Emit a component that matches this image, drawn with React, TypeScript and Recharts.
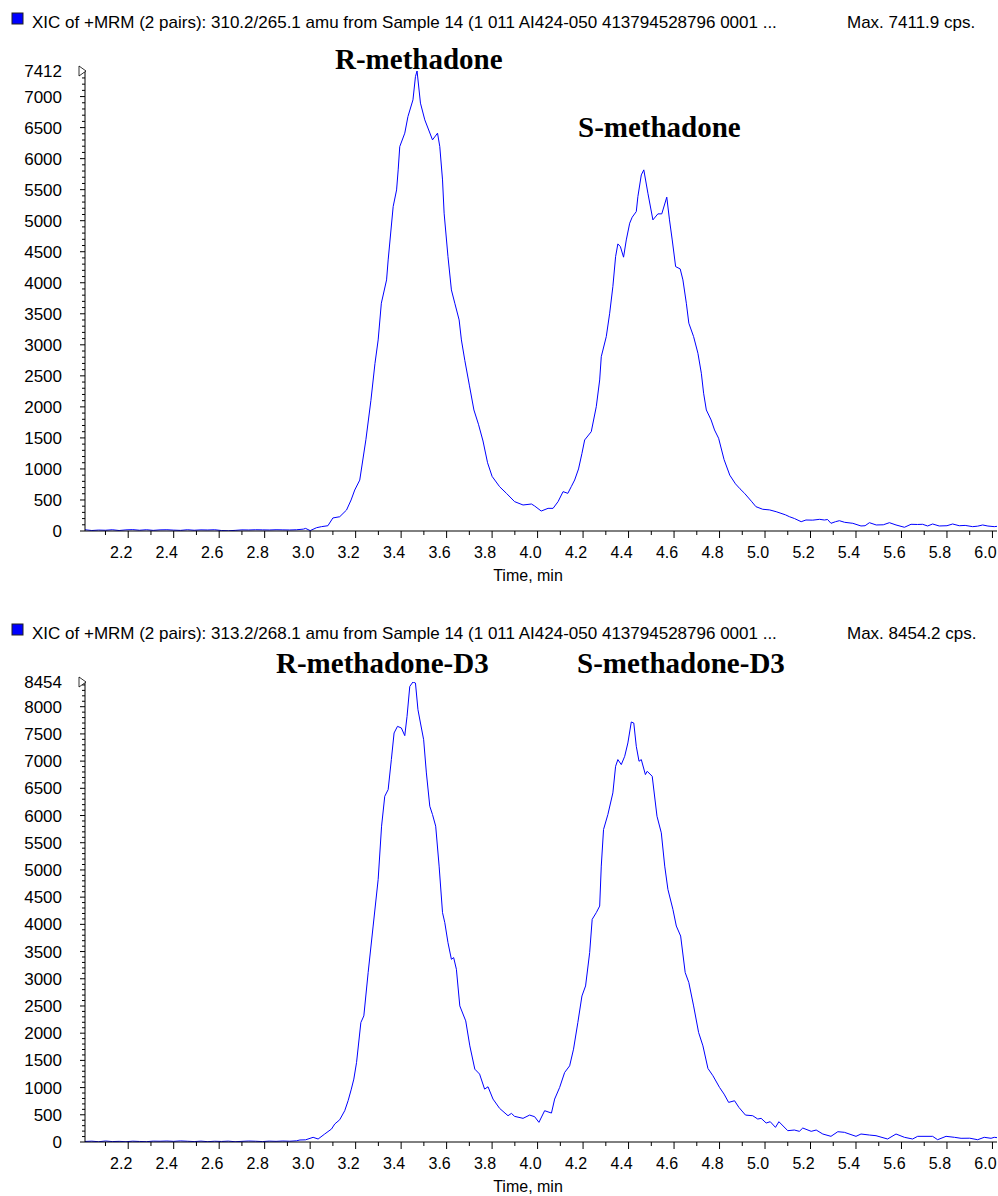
import { Line, LineChart, XAxis, YAxis } from "recharts";

// 310.2/265.1 (methadone) trace
const analyteTime = [
  2.01, 2.04, 2.07, 2.1, 2.13, 2.16, 2.19, 2.22, 2.25, 2.28, 2.31, 2.34, 2.37, 2.4, 2.43, 2.46, 2.49, 2.52,
  2.55, 2.58, 2.61, 2.64, 2.67, 2.7, 2.73, 2.76, 2.79, 2.82, 2.85, 2.88, 2.91, 2.94, 2.97, 2.98, 3.0, 3.028,
  3.05, 3.078, 3.1, 3.13, 3.16, 3.18, 3.196, 3.218, 3.245, 3.267, 3.285, 3.299, 3.313, 3.336, 3.343, 3.365,
  3.38, 3.387, 3.394, 3.416, 3.43, 3.452, 3.463, 3.47, 3.485, 3.504, 3.538, 3.56, 3.57, 3.582, 3.589, 3.606,
  3.621, 3.636, 3.655, 3.665, 3.68, 3.7, 3.72, 3.74, 3.76, 3.78, 3.8, 3.833, 3.863, 3.899, 3.936, 3.973,
  3.987, 4.016, 4.046, 4.068, 4.09, 4.112, 4.133, 4.148, 4.163, 4.18, 4.195, 4.207, 4.236, 4.258, 4.273,
  4.28, 4.302, 4.317, 4.331, 4.343, 4.353, 4.364, 4.378, 4.39, 4.405, 4.416, 4.434, 4.441, 4.456, 4.467,
  4.485, 4.507, 4.529, 4.546, 4.568, 4.58, 4.592, 4.607, 4.627, 4.639, 4.654, 4.665, 4.686, 4.705, 4.72,
  4.73, 4.742, 4.763, 4.778, 4.796, 4.82, 4.845, 4.87, 4.89, 4.91, 4.94, 4.96, 4.99, 5.02, 5.049, 5.07,
  5.09, 5.107, 5.13, 5.159, 5.18, 5.21, 5.24, 5.261, 5.275, 5.29, 5.31, 5.327, 5.35, 5.386, 5.422, 5.44,
  5.459, 5.489, 5.52, 5.547, 5.576, 5.613, 5.642, 5.67, 5.693, 5.715, 5.737, 5.766, 5.8, 5.825, 5.854,
  5.88, 5.913, 5.935, 5.957, 5.98, 6.008, 6.02,
];
const analyteCps = [
  20, 8, 15, 12, 20, 8, 18, 22, 12, 20, 10, 18, 20, 14, 10, 20, 12, 18,
  16, 20, 8, 4, 10, 18, 16, 20, 18, 16, 20, 18, 16, 20, 30, 42, 6, 53,
  70, 85, 210, 230, 338, 500, 660, 820, 1470, 2100, 2700, 3079, 3670, 4046, 4368, 5227,
  5496, 5819, 6194, 6410, 6678, 6947, 7323, 7412, 6894, 6625, 6302, 6410, 6194, 5657, 5121, 4421,
  3885, 3670, 3401, 3079, 2750, 2350, 1950, 1720, 1450, 1100, 880, 714, 607, 473, 419, 435,
  403, 322, 365, 365, 473, 634, 607, 714, 822, 1000, 1250, 1467, 1600, 2003, 2434,
  2809, 3132, 3509, 3938, 4421, 4626, 4583, 4412, 4690, 4960, 5056, 5147, 5388, 5738, 5819,
  5443, 5013, 5110, 5110, 5379, 5013, 4690, 4260, 4223, 4046, 3670, 3348, 3132, 2864, 2542,
  2220, 1950, 1789, 1628, 1494, 1150, 900, 760, 680, 607, 480, 392, 350, 340, 311, 285,
  260, 231, 200, 150, 177, 175, 188, 177, 185, 124, 150, 166, 140, 124, 81, 85,
  134, 97, 100, 134, 97, 60, 108, 105, 108, 81, 113, 81, 85, 113, 85,
  90, 70, 78, 97, 80, 70, 75,
];

// 313.2/268.1 (methadone-D3) trace
const internalTime = [
  2.01, 2.04, 2.07, 2.1, 2.13, 2.16, 2.19, 2.22, 2.25, 2.28, 2.31, 2.34, 2.37, 2.4, 2.43, 2.46, 2.49, 2.52,
  2.55, 2.58, 2.61, 2.64, 2.67, 2.7, 2.73, 2.76, 2.79, 2.82, 2.85, 2.88, 2.91, 2.94, 2.955, 2.98, 3.013,
  3.035, 3.064, 3.094, 3.108, 3.13, 3.152, 3.167, 3.181, 3.192, 3.204, 3.223, 3.236, 3.255, 3.277, 3.299,
  3.314, 3.328, 3.343, 3.357, 3.369, 3.384, 3.401, 3.416, 3.426, 3.438, 3.452, 3.463, 3.474, 3.485, 3.499,
  3.511, 3.526, 3.538, 3.552, 3.567, 3.582, 3.592, 3.606, 3.621, 3.631, 3.643, 3.658, 3.684, 3.702, 3.724,
  3.745, 3.767, 3.782, 3.804, 3.833, 3.87, 3.885, 3.899, 3.936, 3.965, 3.987, 4.006, 4.031, 4.061, 4.075,
  4.097, 4.119, 4.141, 4.158, 4.177, 4.195, 4.211, 4.229, 4.24, 4.258, 4.273, 4.28, 4.29, 4.309, 4.331,
  4.343, 4.353, 4.368, 4.383, 4.397, 4.412, 4.423, 4.434, 4.446, 4.456, 4.474, 4.482, 4.504, 4.525, 4.544,
  4.559, 4.573, 4.595, 4.61, 4.629, 4.649, 4.665, 4.686, 4.708, 4.727, 4.749, 4.771, 4.8, 4.82, 4.84,
  4.866, 4.885, 4.914, 4.946, 4.968, 4.983, 5.005, 5.023, 5.046, 5.061, 5.1, 5.129, 5.151, 5.166, 5.203,
  5.225, 5.254, 5.29, 5.32, 5.349, 5.4, 5.422, 5.459, 5.488, 5.539, 5.576, 5.613, 5.649, 5.671, 5.737,
  5.759, 5.796, 5.833, 5.862, 5.9, 5.935, 5.964, 5.994, 6.008, 6.02,
];
const internalCps = [
  10, 15, 5, 18, 8, 12, 5, 15, 10, 6, 16, 14, 18, 12, 20, 14, 8, 16,
  6, 14, 10, 16, 5, 12, 18, 14, 8, 16, 12, 18, 14, 22, 37, 40, 86,
  55, 147, 239, 330, 409, 575, 760, 972, 1156, 1462, 2196, 2318, 3114, 3969, 4826,
  5804, 6354, 6477, 7028, 7517, 7639, 7609, 7468, 7822, 8373, 8454, 8435, 7945, 7700, 7394,
  6783, 6171, 6018, 5804, 5070, 4215, 4031, 3664, 3358, 3389, 3174, 2501, 2226, 1767, 1339,
  1248, 972, 1015, 789, 618, 483, 526, 471, 435, 495, 465, 361, 575, 532, 789,
  1003, 1278, 1400, 1706, 2196, 2684, 2868, 3481, 4092, 4215, 4336, 5070, 5743, 6018, 6416,
  6905, 7028, 6936, 7088, 7334, 7719, 7700, 7272, 6997, 7028, 6752, 6813, 6721, 5987, 5682,
  5070, 4642, 4275, 3969, 3785, 3114, 2930, 2501, 2012, 1767, 1352, 1217, 1003, 880, 728,
  758, 637, 495, 483, 422, 435, 349, 373, 269, 373, 208, 220, 196, 257, 196,
  220, 147, 104, 189, 178, 104, 147, 128, 116, 55, 147, 86, 55, 104, 104,
  42, 104, 86, 68, 70, 42, 86, 68, 86, 80,
];

const timeTicks = [
  2.1, 2.2, 2.3, 2.4, 2.5, 2.6, 2.7, 2.8, 2.9, 3.0, 3.1, 3.2, 3.3, 3.4, 3.5, 3.6, 3.7, 3.8, 3.9, 4.0,
  4.1, 4.2, 4.3, 4.4, 4.5, 4.6, 4.7, 4.8, 4.9, 5.0, 5.1, 5.2, 5.3, 5.4, 5.5, 5.6, 5.7, 5.8, 5.9, 6.0,
];
const timeDomain = [2.01, 6.02];

const analyteMax = 7412;
const internalMax = 8454;

const analyteTitle = "XIC of +MRM (2 pairs): 310.2/265.1 amu from Sample 14 (1 011 AI424-050 413794528796 0001 ...";
const internalTitle = "XIC of +MRM (2 pairs): 313.2/268.1 amu from Sample 14 (1 011 AI424-050 413794528796 0001 ...";
const analyteMaxText = "Max. 7411.9 cps.";
const internalMaxText = "Max. 8454.2 cps.";
const analytePeaks = ["R-methadone", "S-methadone"];
const internalPeaks = ["R-methadone-D3", "S-methadone-D3"];

const SANS = "'Liberation Sans', Arial, sans-serif";
const SERIF = "'Liberation Serif', 'Times New Roman', serif";

// minor ticks every 100 cps up to the top, plus the max itself
const cpsTicks = (top: number) => {
  const out: number[] = [];
  for (let v = 0; v < top; v += 100) out.push(v);
  out.push(top);
  return out;
};

const TimeTick = (props: any) => {
  const { x, y, payload } = props;
  const v = payload.value as number;
  const major = Math.round(v * 10) % 2 === 0;
  return (
    <g>
      <line x1={x} x2={x} y1={y} y2={y + (major ? 7 : 4)} stroke="#000" />
      {major && (
        <text x={x - 7} y={y + 27} textAnchor="middle" fontSize={16} fontFamily={SANS} fill="#000">
          {v.toFixed(1)}
        </text>
      )}
    </g>
  );
};

const CpsTick = (props: any) => {
  const { x, y, payload, top } = props;
  const v = payload.value as number;
  const isTop = v === top;
  const major = v % 500 === 0 || isTop;
  return (
    <g>
      {!isTop && <line x1={x - (major ? 5 : 3)} x2={x} y1={y} y2={y} stroke="#000" />}
      {major && (
        <text x={x - 23} y={y + 6} textAnchor="end" fontSize={17} fontFamily={SANS} fill="#000">
          {v}
        </text>
      )}
      {isTop && <polygon points={`${x - 6},${y - 5} ${x - 6},${y + 5} ${x + 1},${y}`} fill="#fff" stroke="#000" strokeWidth={0.8} />}
    </g>
  );
};

type PanelProps = {
  top: number;
  times: number[];
  values: number[];
  yMax: number;
  title: string;
  maxText: string;
  peaks: string[];
  peakPos: { x: number; y: number }[];
};

function Panel({ top, times, values, yMax, title, maxText, peaks, peakPos }: PanelProps) {
  const data = times.map((t, i) => ({ t, cps: values[i] }));
  return (
    <div style={{ position: "absolute", left: 0, top, width: 998, height: 600 }}>
      <LineChart width={998} height={600} data={data} margin={{ top: 71, right: 1, bottom: 29, left: 0 }}>
        <XAxis
          dataKey="t"
          type="number"
          domain={timeDomain}
          ticks={timeTicks}
          interval={0}
          allowDataOverflow
          height={40}
          tickSize={0}
          tickMargin={0}
          tickLine={false}
          axisLine={{ stroke: "#000" }}
          tick={<TimeTick />}
        />
        <YAxis
          type="number"
          domain={[0, yMax]}
          ticks={cpsTicks(yMax)}
          interval={0}
          allowDataOverflow
          width={85}
          tickSize={0}
          tickMargin={0}
          tickLine={false}
          axisLine={{ stroke: "#000" }}
          tick={<CpsTick top={yMax} />}
        />
        <Line type="linear" dataKey="cps" stroke="#0000ff" strokeWidth={1} dot={false} isAnimationActive={false} />
      </LineChart>
      <svg width={998} height={600} style={{ position: "absolute", left: 0, top: 0, pointerEvents: "none" }}>
        <rect x={12} y={13} width={11} height={11} fill="#0000ff" stroke="#222" strokeWidth={1} />
        <text x={32} y={28} fontSize={17} fontFamily={SANS} fill="#000">{title}</text>
        <text x={847} y={28} fontSize={17} fontFamily={SANS} fill="#000">{maxText}</text>
        {peaks.map((p, i) => (
          <text key={p} x={peakPos[i].x} y={peakPos[i].y} fontSize={29} fontWeight="bold" fontFamily={SERIF} fill="#000">
            {p}
          </text>
        ))}
        <text x={528} y={581} textAnchor="middle" fontSize={16} fontFamily={SANS} fill="#000">Time, min</text>
      </svg>
    </div>
  );
}

export default function App() {
  return (
    <div style={{ position: "absolute", left: 0, top: 0, width: 998, height: 1196, background: "#fff" }}>
      <Panel
        top={0}
        times={analyteTime}
        values={analyteCps}
        yMax={analyteMax}
        title={analyteTitle}
        maxText={analyteMaxText}
        peaks={analytePeaks}
        peakPos={[{ x: 335, y: 69 }, { x: 578, y: 137 }]}
      />
      <Panel
        top={611}
        times={internalTime}
        values={internalCps}
        yMax={internalMax}
        title={internalTitle}
        maxText={internalMaxText}
        peaks={internalPeaks}
        peakPos={[{ x: 276, y: 62 }, { x: 577, y: 62 }]}
      />
    </div>
  );
}
